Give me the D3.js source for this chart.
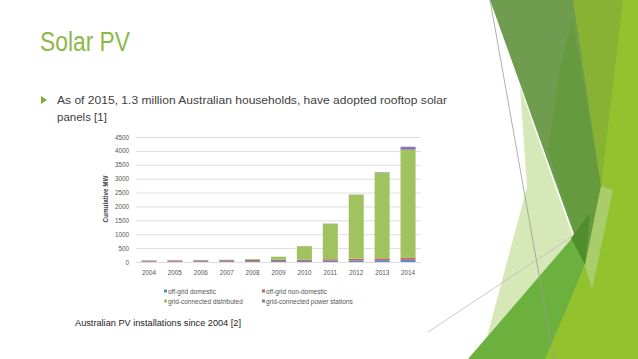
<!DOCTYPE html>
<html>
<head>
<meta charset="utf-8">
<script src="https://cdn.jsdelivr.net/npm/d3@7"></script>
<style>
  html, body { margin: 0; padding: 0; background: #fff; }
  svg { display: block; }
</style>
</head>
<body>
<svg id="slide" width="638" height="359"></svg>
<script>
// ---- data ----
const years = ["2004","2005","2006","2007","2008","2009","2010","2011","2012","2013","2014"];
const offGridDomestic    = [22, 25, 27, 29, 32, 35, 40, 45, 55, 65, 80];
const offGridNonDomestic = [30, 32, 35, 38, 42, 45, 50, 55, 60, 65, 70];
const gridDistributed    = [4, 6, 8, 12, 30, 110, 480, 1280, 2300, 3090, 3890];
const powerStations      = [1, 1, 1, 1, 1, 1, 2, 5, 10, 15, 110];
const seriesNames = ["off-grid domestic", "off-grid non-domestic", "grid-connected distributed", "grid-connected power stations"];
const seriesKeys = ["ogd", "ognd", "gcd", "gcps"];
const yTicks = [0, 500, 1000, 1500, 2000, 2500, 3000, 3500, 4000, 4500];
const colors = ["#5b8bc6", "#c9625e", "#a0c35f", "#8b77b0"];

const table = years.map((y, i) => ({
  year: y, ogd: offGridDomestic[i], ognd: offGridNonDomestic[i],
  gcd: gridDistributed[i], gcps: powerStations[i]
}));

const svg = d3.select("#slide");

// ---- right-side decoration ----
const deco = svg.append("g");
const polys = [
  {p: [[573,0],[638,0],[638,359],[540,359],[585,265]], c: "#93c22f"},
  {p: [[573,0],[623,0],[601,186]], c: "#87b233"},
  {p: [[520,87],[573,237],[487,337],[527,187]], c: "#d6e8b8"},
  {p: [[490,0],[573,0],[601,186],[585,265]], c: "#6f9c4e"},
  {p: [[572,18],[601,186],[585,265],[548,150],[560,70]], c: "#659a3e"},
  {p: [[601,186],[613,190],[592,290],[585,265]], c: "#a8cd6a"},
  {p: [[468,359],[573,237],[585,265],[545,359]], c: "#6cb13e"},
  {p: [[571,238],[590,213],[585,265]], c: "#4f8e2b"}
];
polys.forEach(d => {
  deco.append("polygon")
    .attr("points", d.p.map(q => q.join(",")).join(" "))
    .attr("fill", d.c);
});
deco.append("line").attr("x1", 490).attr("y1", 0).attr("x2", 554).attr("y2", 359)
  .attr("stroke", "#9a9a9a").attr("stroke-width", 0.8);
deco.append("line").attr("x1", 428).attr("y1", 332).attr("x2", 573).attr("y2", 236)
  .attr("stroke", "#bdbdbd").attr("stroke-width", 0.8);

// ---- slide text ----
svg.append("text").attr("x", 40).attr("y", 51)
  .attr("font-family", "Liberation Sans, Arial, sans-serif")
  .attr("font-size", 27).attr("fill", "#8db849")
  .attr("textLength", 90).attr("lengthAdjust", "spacingAndGlyphs")
  .text("Solar PV");

svg.append("path").attr("d", "M41,96 L47,100 L41,104 Z").attr("fill", "#7fae3d");

svg.append("text").attr("x", 57).attr("y", 104)
  .attr("font-family", "Liberation Sans, Arial, sans-serif")
  .attr("font-size", 11.5).attr("fill", "#404040")
  .attr("textLength", 390).attr("lengthAdjust", "spacingAndGlyphs")
  .text("As of 2015, 1.3 million Australian households, have adopted rooftop solar");
svg.append("text").attr("x", 57).attr("y", 121)
  .attr("font-family", "Liberation Sans, Arial, sans-serif")
  .attr("font-size", 11.5).attr("fill", "#404040")
  .text("panels [1]");

svg.append("text").attr("x", 75).attr("y", 326)
  .attr("font-family", "Liberation Sans, Arial, sans-serif")
  .attr("font-size", 8.5).attr("fill", "#222")
  .attr("textLength", 166).attr("lengthAdjust", "spacingAndGlyphs")
  .text("Australian PV installations since 2004 [2]");

// ---- chart ----
const x = d3.scaleBand().domain(years).range([136, 421]).paddingInner(0.42).paddingOuter(0.21);
const y = d3.scaleLinear().domain([0, 4500]).range([262, 137]);
const chart = svg.append("g").attr("font-family", "Liberation Sans, Arial, sans-serif");

// gridlines
chart.append("g")
  .attr("transform", "translate(136,0)")
  .call(d3.axisLeft(y).tickValues(yTicks).tickSize(-285).tickFormat(""))
  .call(g => g.select(".domain").remove())
  .call(g => g.selectAll(".tick line").attr("stroke", "#d4d4d4").attr("stroke-width", 0.8));

// y labels
chart.append("g")
  .attr("transform", "translate(131,0)")
  .call(d3.axisLeft(y).tickValues(yTicks).tickSize(0).tickPadding(2).tickFormat(d3.format("d")))
  .call(g => g.select(".domain").remove())
  .call(g => g.selectAll("text").attr("font-size", 6.3).attr("fill", "#555").attr("font-family", "Liberation Sans, Arial, sans-serif"));

// x labels
chart.append("g")
  .attr("transform", "translate(0,262)")
  .call(d3.axisBottom(x).tickSize(0).tickPadding(9))
  .call(g => g.select(".domain").remove())
  .call(g => g.selectAll("text").attr("font-size", 6.3).attr("fill", "#555").attr("font-family", "Liberation Sans, Arial, sans-serif"));

// y title
chart.append("text")
  .attr("transform", "translate(108,199) rotate(-90)")
  .attr("text-anchor", "middle")
  .attr("font-size", 6.3).attr("font-weight", "bold").attr("fill", "#444")
  .text("Cumulative MW");

// stacked bars
const stack = d3.stack().keys(seriesKeys)(table);
chart.append("g").selectAll("g").data(stack).join("g")
  .attr("fill", (d, i) => colors[i])
  .selectAll("rect").data(d => d).join("rect")
  .attr("x", d => x(d.data.year))
  .attr("width", x.bandwidth())
  .attr("y", d => y(d[1]))
  .attr("height", d => Math.max(0, y(d[0]) - y(d[1])));

// legend
const legendPos = [[164, 292], [262, 292], [164, 302], [262, 302]];
const leg = chart.append("g");
seriesNames.forEach((n, i) => {
  const [lx, ly] = legendPos[i];
  leg.append("rect").attr("x", lx).attr("y", ly - 2.5).attr("width", 3).attr("height", 3).attr("fill", colors[i]);
  leg.append("text").attr("x", lx + 4).attr("y", ly + 1.5)
    .attr("font-size", 6.5).attr("fill", "#555").text(n);
});
</script>
</body>
</html>
